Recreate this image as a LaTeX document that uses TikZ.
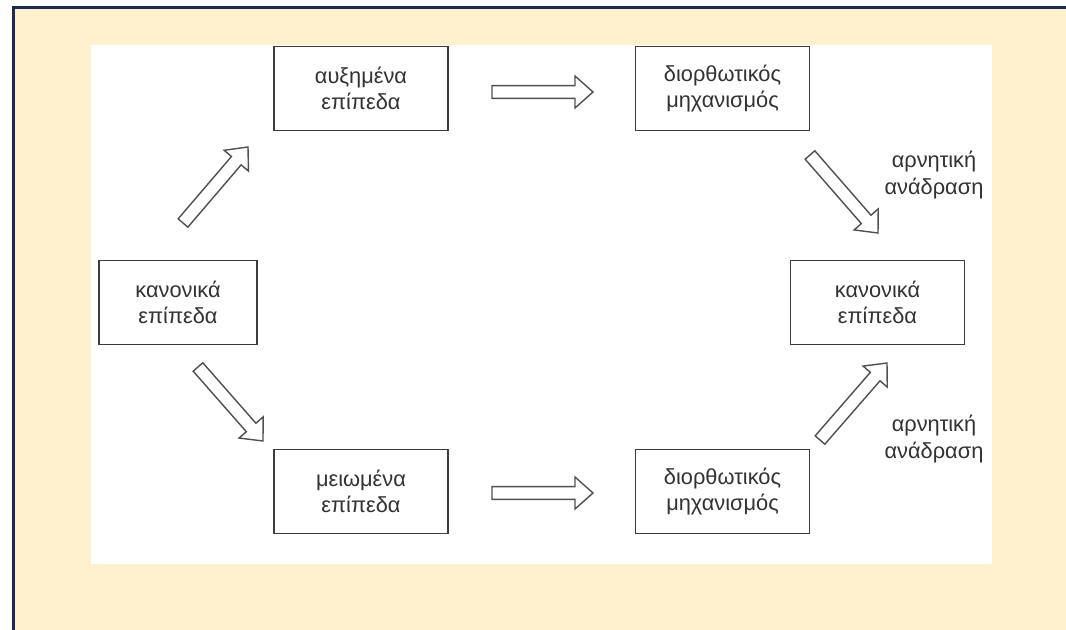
\documentclass[tikz,border=0pt]{standalone}
\usepackage{fontspec}
\setmainfont{Liberation Sans}
\definecolor{fbbeige}{RGB}{255,240,206}
\definecolor{fbnavy}{RGB}{28,42,82}
\definecolor{fbink}{RGB}{50,50,50}
\definecolor{fbedge}{RGB}{60,60,60}
\definecolor{fbarrow}{RGB}{80,80,80}
\usetikzlibrary{calc}
\tikzset{
  level/.style={draw=fbedge, line width=1.2pt, fill=white, text=fbink,
                font=\fontsize{15.5}{19}\selectfont, align=center,
                minimum width=#1, minimum height=2.1cm, inner sep=0pt},
  fblabel/.style={text=fbink, font=\fontsize{15.5}{19}\selectfont, align=center},
  hollow/.style={draw=fbarrow, fill=white, line width=1pt, line join=miter,
    to path={($(\tikztostart)!0.16cm!90:(\tikztotarget)$)
      -- ($($(\tikztotarget)!0.45cm!(\tikztostart)$)!0.16cm!90:(\tikztotarget)$)
      -- ($($(\tikztotarget)!0.45cm!(\tikztostart)$)!0.4cm!90:(\tikztotarget)$)
      -- (\tikztotarget)
      -- ($($(\tikztotarget)!0.45cm!(\tikztostart)$)!0.4cm!-90:(\tikztotarget)$)
      -- ($($(\tikztotarget)!0.45cm!(\tikztostart)$)!0.16cm!-90:(\tikztotarget)$)
      -- ($(\tikztostart)!0.16cm!-90:(\tikztotarget)$) -- cycle}},
}
\begin{document}
\begin{tikzpicture}[x=0.025cm, y=-0.025cm]
\useasboundingbox (0,0) rectangle (1066,630);

% frame and panel
\fill[fbbeige] (13,7) rectangle (1066,630);
\draw[fbnavy, line width=2.2pt] (13.5,630) -- (13.5,7.5) -- (1066,7.5);
\fill[white] (91,45) rectangle (992,564);

% levels
\node[level=3.95cm] (norml) at (178,302.5) {κανονικά\\επίπεδα};
\node[level=4.35cm] (up) at (361,88.5) {αυξημένα\\επίπεδα};
\node[level=4.35cm] (corrup) at (722.5,88.5) {διορθωτικός\\μηχανισμός};
\node[level=4.35cm] (down) at (361,491.5) {μειωμένα\\επίπεδα};
\node[level=4.35cm] (corrdown) at (722.5,491.5) {διορθωτικός\\μηχανισμός};
\node[level=4.35cm] (normr) at (877.5,302.5) {κανονικά\\επίπεδα};

% feedback labels
\node[fblabel] (fbup) at (934,175) {αρνητική\\ανάδραση};
\node[fblabel] (fbdown) at (934,439) {αρνητική\\ανάδραση};

% arrow ends
\coordinate (t1) at (183,223); \coordinate (h1) at (248,147);
\coordinate (t2) at (198,367); \coordinate (h2) at (263,441);
\coordinate (t3) at (492,92);  \coordinate (h3) at (593,92);
\coordinate (t4) at (492,493); \coordinate (h4) at (593,493);
\coordinate (t5) at (810,155); \coordinate (h5) at (878,233);
\coordinate (t6) at (820,440); \coordinate (h6) at (887,363);

% hollow arrows
\foreach \i in {1,...,6}
  \draw[hollow] (t\i) to (h\i);

\end{tikzpicture}
\end{document}
